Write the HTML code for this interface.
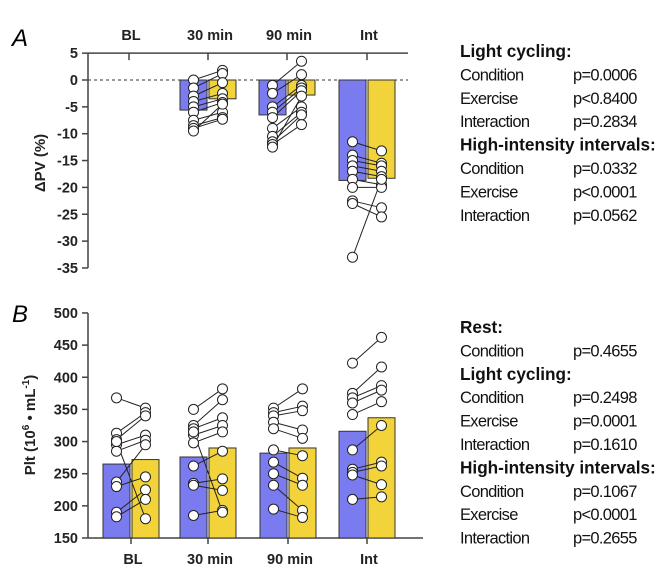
<!DOCTYPE html>
<html><head><meta charset="utf-8"><style>
body{margin:0;background:#fff;width:671px;height:579px;overflow:hidden}
svg{font-family:"Liberation Sans",sans-serif}
</style></head><body>
<svg id="s" width="671" height="579">
<text x="12" y="46" font-size="24" font-style="italic">A</text>
<text x="12" y="322" font-size="24" font-style="italic">B</text>
<g id="gA"></g>
<g id="gB"></g>
<g id="txt" fill="#111"></g>
</svg>
<script>
const cats=["BL","30 min","90 min","Int"];
const aBlueMean=[null,-5.6,-6.5,-18.7];
const aYellowMean=[null,-3.5,-2.8,-18.3];
const aBluePts=[[],[0,-1.5,-3,-4,-5,-6,-7.5,-8.5,-9,-9.5],[-1,-2.5,-5,-6,-7,-9,-10.5,-11.5,-12,-12.5],[-11.5,-14,-15,-16,-17,-18.5,-20,-22.5,-23,-33]];
const aYellowPts=[[],[1.8,1.2,-0.5,-2.5,-3.5,-4.2,-6,-7,-7.3,-4.5],[3.5,1,-1,-1.5,-2,-5,-6,-6.5,-8.3,-3],[-13.2,-15.5,-16,-17,-18,-19.5,-20,-23.8,-25.5,-18.5]];
const bBlueMean=[265,276,282,316];
const bYellowMean=[272,290,290,337];
const bBluePts=[[368,313,303,295,285,237,230,190,183,300],[350,325,320,310,298,262,235,232,185,315],[352,345,340,330,320,287,268,250,232,195],[422,375,368,360,342,287,257,252,248,210]];
const bYellowPts=[[352,345,340,310,302,295,245,225,210,180],[382,365,337,325,315,285,242,224,193,190],[382,355,348,318,305,278,243,232,193,182],[462,416,387,380,362,325,268,262,233,214]];
const aTicks=[5,0,-5,-10,-15,-20,-25,-30,-35];
const bTicks=[500,450,400,350,300,250,200,150];
const statsA=[["Light cycling:",""],["Condition","p=0.0006"],["Exercise","p<0.8400"],["Interaction","p=0.2834"],["High-intensity intervals:",""],["Condition","p=0.0332"],["Exercise","p<0.0001"],["Interaction","p=0.0562"]];
const statsB=[["Rest:",""],["Condition","p=0.4655"],["Light cycling:",""],["Condition","p=0.2498"],["Exercise","p=0.0001"],["Interaction","p=0.1610"],["High-intensity intervals:",""],["Condition","p=0.1067"],["Exercise","p<0.0001"],["Interaction","p=0.2655"]];
const NS="http://www.w3.org/2000/svg";
function mk(p,t,a){const e=document.createElementNS(NS,t);for(const k in a)e.setAttribute(k,a[k]);p.appendChild(e);return e;}
const catX=[129,208,287,367];
const xA=i=>catX[i], xB=i=>[131,208,288,367][i];
const yA=v=>80-v*5.37;
const yB=v=>538-(v-150)*0.643;
const BW=27, BLUE="#7b7bf0", YEL="#f2d33a";
function panel(g,xf,yf,ticks,bm,ym,bp,yp,top,axisEnd,baseV){
  let ax=mk(g,'line',{x1:88,x2:88,y1:yf(ticks[0]),y2:yf(ticks[ticks.length-1]),stroke:'#444','stroke-width':1.5});
  
  ticks.forEach(t=>{
    mk(g,'line',{x1:82,x2:88,y1:yf(t),y2:yf(t),stroke:'#444','stroke-width':1.5});
    let tx=mk(g,'text',{x:78,y:yf(t)+5,'text-anchor':'end','font-size':14.5,'font-weight':'bold',fill:'#222'});tx.textContent=t;
    
  });
  const xy=top?yf(5):yf(150);
  let xa=mk(g,'line',{x1:88,x2:axisEnd,y1:xy,y2:xy,stroke:'#444','stroke-width':1.5});
  
  cats.forEach((c,i)=>{
    mk(g,'line',{x1:xf(i),x2:xf(i),y1:xy,y2:top?xy+7:xy+6,stroke:'#444','stroke-width':1.5});
    let t=mk(g,'text',{x:xf(i)+2,y:top?xy-13:xy+26,'text-anchor':'middle','font-size':14.5,'font-weight':'bold',fill:'#222'});t.textContent=c;
    
  });
  cats.forEach((c,i)=>{
    [[bm,BLUE,-BW/2-1],[ym,YEL,BW/2+1]].forEach(([m,col,off])=>{
      if(m[i]==null)return;
      const y1=yf(m[i]),y0=yf(baseV);
      let r=mk(g,'rect',{x:xf(i)+off-BW/2,y:Math.min(y0,y1),width:BW,height:Math.abs(y1-y0),fill:col,stroke:'#333','stroke-width':1});
      
    });
  });
  cats.forEach((c,i)=>{
    const bx=xf(i)-BW/2-1, yx=xf(i)+BW/2+1;
    bp[i].forEach((v,j)=>{
      let l=mk(g,'line',{x1:bx,x2:yx,y1:yf(v),y2:yf(yp[i][j]),stroke:'#222','stroke-width':1});
      
    });
    bp[i].forEach(v=>{let p=mk(g,'circle',{cx:bx,cy:yf(v),r:5,fill:'#fff',stroke:'#222','stroke-width':1});
      });
    yp[i].forEach(v=>{let p=mk(g,'circle',{cx:yx,cy:yf(v),r:5,fill:'#fff',stroke:'#222','stroke-width':1});
      });
  });
}
const gA=document.getElementById('gA'),gB=document.getElementById('gB');
mk(gA,'line',{x1:88,x2:408,y1:yA(0),y2:yA(0),stroke:'#333','stroke-width':1,'stroke-dasharray':'3,3'});
panel(gA,xA,yA,aTicks,aBlueMean,aYellowMean,aBluePts,aYellowPts,true,408,0);
panel(gB,xB,yB,bTicks,bBlueMean,bYellowMean,bBluePts,bYellowPts,false,423,150);
let ta=mk(gA,'text',{x:0,y:0,transform:'translate(45,163) rotate(-90)','text-anchor':'middle','font-size':15,'font-weight':'bold',fill:'#222'});
ta.textContent='ΔPV (%)';

let tb=mk(gB,'text',{x:0,y:0,transform:'translate(35,425) rotate(-90)','text-anchor':'middle','font-size':15,'font-weight':'bold',fill:'#222'});
tb.innerHTML='Plt (10<tspan dy="-6" font-size="10">6</tspan><tspan dy="6"> • mL</tspan><tspan dy="-6" font-size="10">-1</tspan><tspan dy="6">)</tspan>';

const txt=document.getElementById('txt');
function stats(arr,y0){arr.forEach((r,i)=>{const y=y0+i*23.4;
  let a=mk(txt,'text',{x:460,y:y,'font-size':r[1]?16.5:17.2,'font-weight':r[1]?'normal':'bold','letter-spacing':r[1]?'-0.7':'0'});a.textContent=r[0];
  
  if(r[1]){let b=mk(txt,'text',{x:573,y:y,'font-size':16.5,'letter-spacing':'-0.7'});b.textContent=r[1];
  }
});}
stats(statsA,57);stats(statsB,333);
</script>
</body></html>
